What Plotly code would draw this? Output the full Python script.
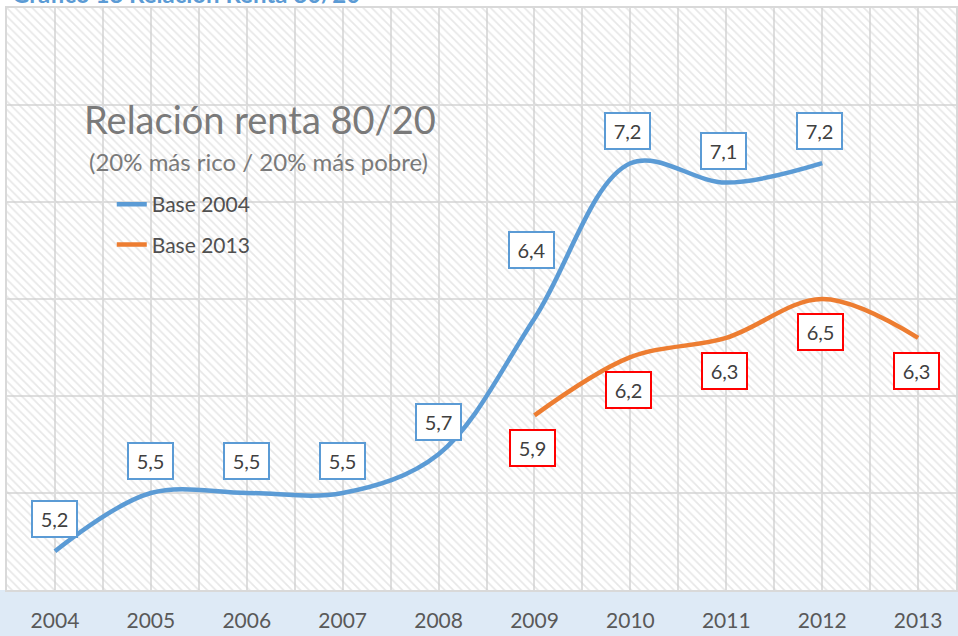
import plotly.graph_objects as go

years = [2004, 2005, 2006, 2007, 2008, 2009, 2010, 2011, 2012, 2013]
base2004_years = [2004, 2005, 2006, 2007, 2008, 2009, 2010, 2011, 2012]
base2004 = [5.2, 5.5, 5.5, 5.5, 5.7, 6.4, 7.2, 7.1, 7.2]
base2013_years = [2009, 2010, 2011, 2012, 2013]
base2013 = [5.9, 6.2, 6.3, 6.5, 6.3]
tick_labels = [str(y) for y in years]

X_RANGE = [2003.5, 2013.395]
Y_RANGE = [5.0, 8.0]

BLUE = "#5B9BD5"
ORANGE = "#ED7D31"
RED = "#FF0000"
FONT = "Lato"

fig = go.Figure()

# hatched plot background
fig.add_trace(go.Scatter(
    x=[X_RANGE[0], X_RANGE[1], X_RANGE[1], X_RANGE[0], X_RANGE[0]],
    y=[Y_RANGE[0], Y_RANGE[0], Y_RANGE[1], Y_RANGE[1], Y_RANGE[0]],
    mode="lines", line=dict(width=0), fill="toself",
    fillpattern=dict(shape="\\", fgcolor="#d0d0d0", bgcolor="rgba(0,0,0,0)",
                     size=6, solidity=0.28),
    fillcolor="rgba(0,0,0,0)",
    hoverinfo="skip", showlegend=False))

fig.add_trace(go.Scatter(
    x=base2004_years, y=base2004, name="Base 2004", mode="lines",
    line=dict(color=BLUE, width=4.5, shape="spline", smoothing=1.0),
    legendgroup="a"))
fig.add_trace(go.Scatter(
    x=base2013_years, y=base2013, name="Base 2013", mode="lines",
    line=dict(color=ORANGE, width=4.5, shape="spline", smoothing=1.0),
    legendgroup="b"))

def fmt(v):
    return f"{v:.1f}".replace(".", ",")

for i, (x, v) in enumerate(zip(base2004_years, base2004)):
    ys = 68 if x == 2009 else 32
    xs = -3 if x >= 2009 else 0
    fig.add_annotation(x=x, y=v, text=fmt(v), showarrow=False, yshift=ys, xshift=xs,
                       font=dict(family=FONT, size=20, color="#404040"),
                       bgcolor="white", bordercolor=BLUE, borderwidth=2,
                       width=41, height=32, borderpad=1)
for x, v in zip(base2013_years, base2013):
    fig.add_annotation(x=x, y=v, text=fmt(v), showarrow=False, yshift=-33, xshift=-2,
                       font=dict(family=FONT, size=20, color="#404040"),
                       bgcolor="white", bordercolor=RED, borderwidth=2,
                       width=41, height=32, borderpad=1)

# in-chart titles
fig.add_annotation(xref="paper", yref="paper", x=(82 - 7) / 951, y=1 - (119 - 8) / 582,
                   xanchor="left", yanchor="middle", showarrow=False,
                   text="Relación renta 80/20",
                   font=dict(family=FONT, size=38, color="#7a7a7a"))
fig.add_annotation(xref="paper", yref="paper", x=(87 - 7) / 951, y=1 - (162 - 8) / 582,
                   xanchor="left", yanchor="middle", showarrow=False,
                   text="(20% más rico / 20% más pobre)",
                   font=dict(family=FONT, size=24, color="#7a7a7a"))
# top title (cropped at the top edge, as in the source)
fig.add_annotation(xref="paper", yref="paper", x=(10 - 7) / 951, y=1,
                   xanchor="left", yanchor="bottom", yshift=-2, showarrow=False,
                   text="<b>Gráfico 18 Relación Renta 80/20</b>",
                   font=dict(family=FONT, size=24, color="#5B9BD5"))

# bottom axis band
fig.add_shape(type="rect", xref="paper", yref="paper", x0=-0.01, x1=1.01,
              y0=-0.1, y1=0, fillcolor="#DEEAF6", line=dict(width=0), layer="below")

fig.update_layout(
    width=958, height=636,
    margin=dict(l=7, r=0, t=8, b=46),
    paper_bgcolor="white", plot_bgcolor="white",
    showlegend=True,
    legend=dict(x=(112 - 7) / 951, y=1 - (184 - 8) / 582, xanchor="left", yanchor="top",
                bgcolor="rgba(0,0,0,0)", traceorder="grouped", tracegroupgap=10,
                font=dict(family=FONT, size=21, color="#505050")),
    font=dict(family=FONT),
)
fig.update_xaxes(range=X_RANGE, tickvals=years, ticktext=tick_labels,
                 showgrid=True, gridcolor="#dedede", gridwidth=1.5,
                 minor=dict(dtick=0.5, tick0=2003.5, showgrid=True, gridcolor="#dedede", gridwidth=1.5),
                 ticks="", ticklabelstandoff=11,
                 tickfont=dict(family=FONT, size=21, color="#595959"),
                 showline=True, linecolor="#d9d9d9", linewidth=1.5, mirror=True,
                 zeroline=False, fixedrange=True)
fig.update_yaxes(range=Y_RANGE, dtick=0.5, showticklabels=False,
                 showgrid=True, gridcolor="#dedede", gridwidth=1.5,
                 showline=True, linecolor="#d9d9d9", linewidth=1.5, mirror=True,
                 zeroline=False, fixedrange=True)

fig.write_html("out.html", config={"displayModeBar": False},
               post_script="document.body.style.margin='0px';document.body.style.overflow='hidden';")
